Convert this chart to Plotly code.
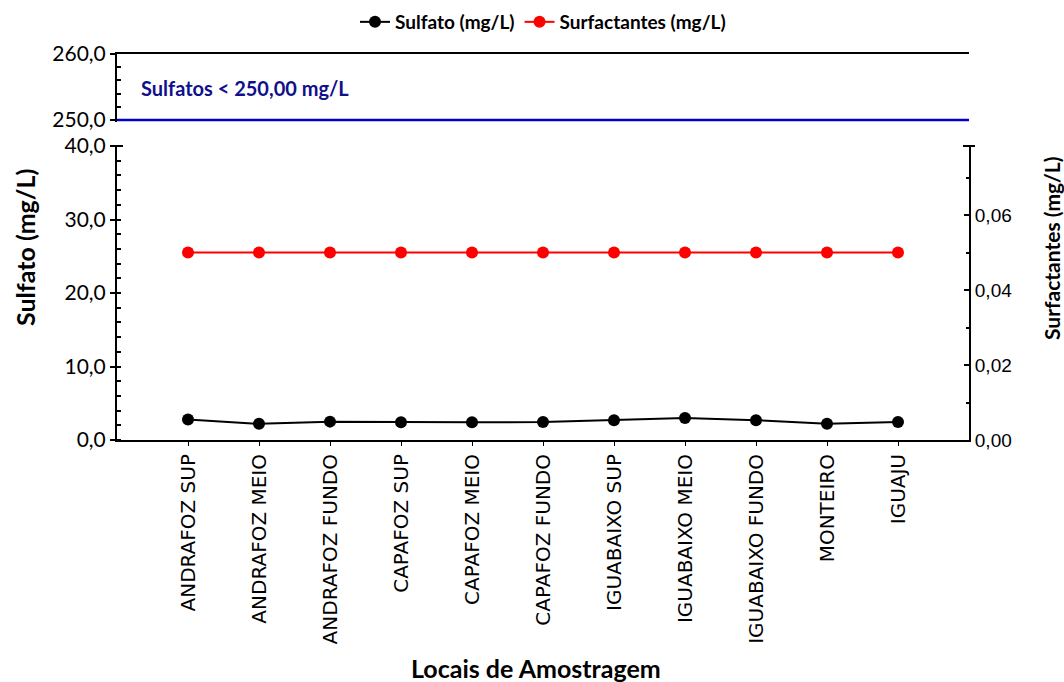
import plotly.graph_objects as go

categories = ["ANDRAFOZ SUP", "ANDRAFOZ MEIO", "ANDRAFOZ FUNDO", "CAPAFOZ SUP", "CAPAFOZ MEIO",
              "CAPAFOZ FUNDO", "IGUABAIXO SUP", "IGUABAIXO MEIO", "IGUABAIXO FUNDO", "MONTEIRO", "IGUAJU"]
sulfato = [2.8, 2.2, 2.5, 2.4, 2.4, 2.45, 2.7, 3.0, 2.7, 2.2, 2.45]
surfactantes = [0.05] * 11
sulfato_limite = 250.0

W, H = 1064, 682
L, R, T, B = 117, 95, 54, 242
ph = H - T - B
pw = W - L - R
bot_top = (440 - 146) / ph
top_bot = (440 - 122) / ph

axis_line = dict(showline=True, linecolor="black", linewidth=2, showgrid=False, zeroline=False)

fig = go.Figure()
fig.add_trace(go.Scatter(x=categories, y=sulfato, name="Sulfato (mg/L)", mode="lines+markers",
                         line=dict(color="black", width=2), marker=dict(color="black", size=12),
                         xaxis="x", yaxis="y"))
fig.add_trace(go.Scatter(x=categories, y=surfactantes, name="Surfactantes (mg/L)", mode="lines+markers",
                         line=dict(color="#FF0000", width=2), marker=dict(color="#FF0000", size=12),
                         xaxis="x", yaxis="y2"))
fig.add_trace(go.Scatter(x=categories, y=[sulfato_limite] * len(categories), mode="lines",
                         line=dict(color="rgba(0,0,0,0)"), showlegend=False, hoverinfo="skip",
                         xaxis="x2", yaxis="y3"))

fig.add_shape(type="line", xref="x2 domain", yref="y3", x0=0, x1=1, y0=sulfato_limite, y1=sulfato_limite,
              line=dict(color="#0000CC", width=2.5))
# break caps
for xp in (0, 1):
    fig.add_shape(type="line", xref="paper", yref="paper", x0=xp - 6 / pw, x1=xp + 6 / pw,
                  y0=bot_top, y1=bot_top, line=dict(color="black", width=2))

fig.add_annotation(text="<b>Sulfatos < 250,00 mg/L</b>", xref="paper", yref="paper",
                   x=(139 - L) / pw, y=(440 - 88) / ph, xanchor="left", yanchor="middle", showarrow=False,
                   font=dict(family="Lato", size=20, color="#10108C"))
fig.add_annotation(text="<b>Sulfato (mg/L)</b>", xref="paper", yref="paper", x=(25 - L) / pw,
                   y=(440 - 248) / ph, textangle=-90, showarrow=False, xanchor="center", yanchor="middle",
                   font=dict(family="Lato", size=25, color="black"))
fig.add_annotation(text="<b>Surfactantes (mg/L)</b>", xref="paper", yref="paper", x=(1051 - L) / pw,
                   y=(440 - 248) / ph, textangle=-90, showarrow=False, xanchor="center", yanchor="middle",
                   font=dict(family="Lato", size=21, color="black"))
fig.add_annotation(text="<b>Locais de Amostragem</b>", xref="paper", yref="paper", x=(536 - L) / pw,
                   y=(440 - 668) / ph, showarrow=False, xanchor="center", yanchor="middle",
                   font=dict(family="Lato", size=25, color="black"))

fig.update_layout(
    width=W, height=H,
    margin=dict(l=L, r=R, t=T, b=B, autoexpand=False),
    paper_bgcolor="white", plot_bgcolor="white",
    separators=",.",
    legend=dict(orientation="h", x=0.5, xanchor="center", yref="container", y=1 - 22 / H, yanchor="middle",
                font=dict(family="Lato", size=19, color="black", weight="bold"),
                itemwidth=30, bgcolor="rgba(0,0,0,0)"),
    xaxis=dict(domain=[0, 1], anchor="y", type="category", range=[-1, 11], **axis_line,
               ticks="outside", ticklen=4, tickwidth=1, tickcolor="black", tickangle=-90,
               tickfont=dict(family="DejaVu Sans", size=20, color="black")),
    yaxis=dict(domain=[0, bot_top], anchor="x", range=[0, 40], dtick=10, tickformat=".1f", **axis_line,
               ticks="outside", ticklen=5, tickwidth=2, tickcolor="black",
               minor=dict(dtick=2, ticks="inside", ticklen=4, tickwidth=1.5, tickcolor="black"),
               tickfont=dict(family="Lato", size=21, color="black")),
    yaxis2=dict(overlaying="y", side="right", anchor="x", range=[0, 0.0784], dtick=0.02, tickformat=".2f",
                **axis_line, ticks="inside", ticklen=5, tickwidth=2, tickcolor="black",
                minor=dict(dtick=0.01, ticks="inside", ticklen=3, tickwidth=1.5, tickcolor="black"),
                tickfont=dict(family="Liberation Sans", size=19, color="black")),
    xaxis2=dict(domain=[0, 1], anchor="y3", type="category", range=[-1, 11], side="top", **axis_line,
                ticks="", showticklabels=False),
    yaxis3=dict(domain=[top_bot, 1], anchor="x2", range=[249.7, 260], tickvals=[250, 260], tickformat=".1f",
                **axis_line, ticks="outside", ticklen=5, tickwidth=2, tickcolor="black",
                minor=dict(tickvals=[252, 254, 256, 258], ticks="inside", ticklen=4, tickwidth=1.5,
                           tickcolor="black"),
                tickfont=dict(family="Lato", size=21, color="black")),
    yaxis4=dict(overlaying="y3", side="right", anchor="x2", range=[0.4794, 0.50], tickvals=[0.48, 0.50],
                tickformat=".2f", **axis_line, ticks="inside", ticklen=5, tickwidth=2, tickcolor="black",
                minor=dict(tickvals=[0.49], ticks="inside", ticklen=3, tickwidth=1.5, tickcolor="black"),
                tickfont=dict(family="Liberation Sans", size=19, color="black")),
)

fig.write_html("out.html")
